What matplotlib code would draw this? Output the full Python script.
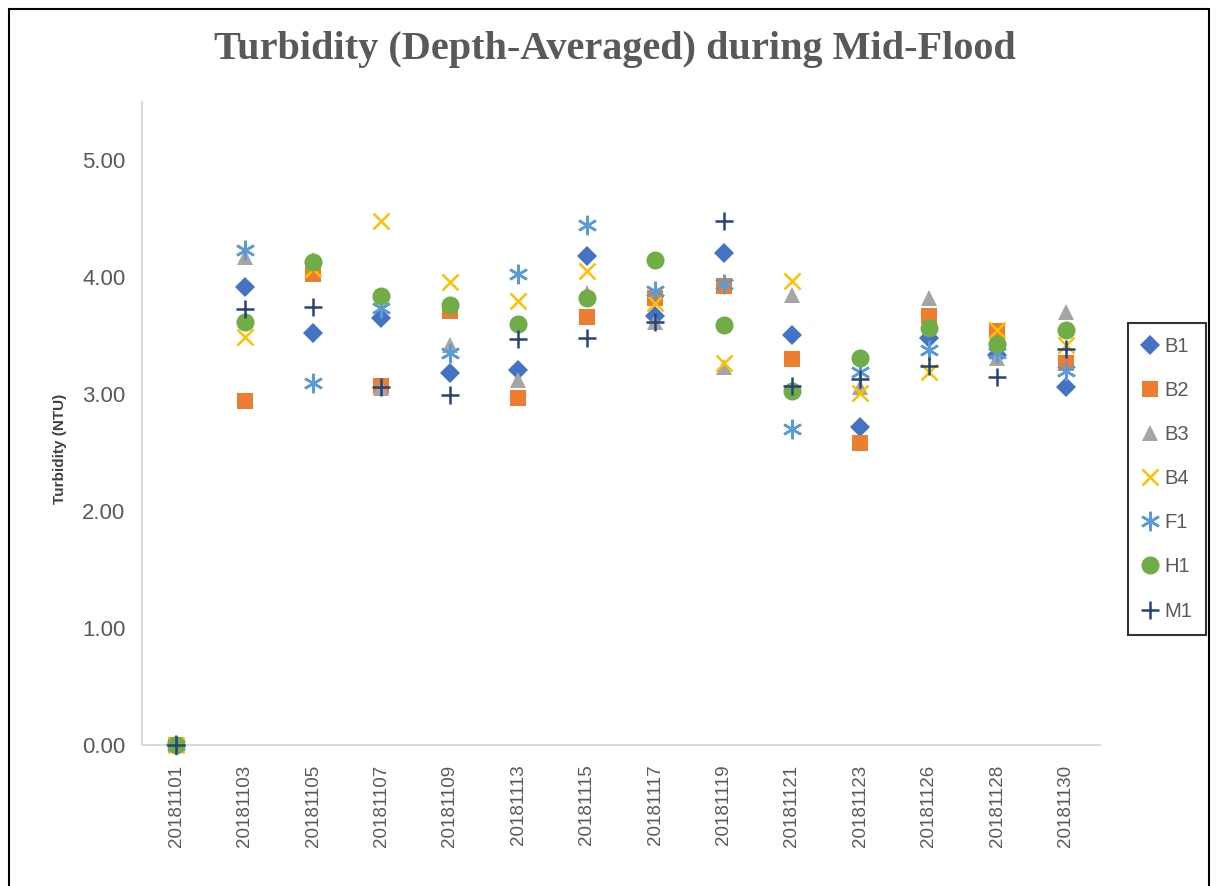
import numpy as np
import matplotlib.pyplot as plt
from matplotlib.patches import Rectangle

plt.rcParams["font.family"] = ["Liberation Sans", "DejaVu Sans"]

# ---------------------------------------------------------------------------
# Data
# ---------------------------------------------------------------------------
dates = ["20181101", "20181103", "20181105", "20181107", "20181109", "20181113",
         "20181115", "20181117", "20181119", "20181121", "20181123", "20181126",
         "20181128", "20181130"]

B1 = [0.00, 3.92, 3.52, 3.65, 3.18, 3.21, 4.18, 3.67, 4.21, 3.51, 2.72, 3.48, 3.34, 3.06]
B2 = [0.00, 2.94, 4.03, 3.07, 3.71, 2.97, 3.66, 3.82, 3.93, 3.30, 2.58, 3.67, 3.54, 3.27]
B3 = [0.00, 4.17, 4.15, 3.05, 3.42, 3.12, 3.87, 3.62, 3.23, 3.85, 3.06, 3.82, 3.31, 3.70]
B4 = [0.00, 3.49, 4.07, 4.48, 3.96, 3.80, 4.05, 3.78, 3.27, 3.97, 3.01, 3.19, 3.55, 3.42]
F1 = [0.00, 4.23, 3.10, 3.74, 3.35, 4.03, 4.45, 3.88, 3.94, 2.70, 3.19, 3.38, 3.35, 3.20]
H1 = [0.00, 3.62, 4.13, 3.84, 3.76, 3.60, 3.82, 4.15, 3.59, 3.03, 3.31, 3.57, 3.43, 3.55]
M1 = [0.00, 3.73, 3.75, 3.06, 2.99, 3.47, 3.48, 3.62, 4.48, 3.07, 3.13, 3.24, 3.15, 3.39]

GREY_TXT = "#595959"

# ---------------------------------------------------------------------------
# Figure
# ---------------------------------------------------------------------------
fig = plt.figure(figsize=(12.18, 8.86), dpi=100)
ax = fig.add_axes([0.1166, 0.159, 0.7864, 0.726])

x = np.arange(len(dates))
series = [
    ("B1", B1, "D", "#4472C4", 10, 0),
    ("B2", B2, "s", "#ED7D31", 11, 0),
    ("B3", B3, "^", "#A5A5A5", 12, 0),
    ("B4", B4, "x", "#FFC000", 12, 1.8),
    ("F1", F1, (6, 2, 0), "#5B9BD5", 14, 1.8),
    ("H1", H1, "o", "#70AD47", 13, 0),
    ("M1", M1, "+", "#264478", 13, 1.8),
]
for name, vals, mk, col, ms, mew in series:
    ax.plot(x, vals, linestyle="none", marker=mk, color=col, markersize=ms,
            markeredgewidth=mew, label=name, clip_on=False, zorder=3)

ax.set_xlim(-0.5, len(dates) - 0.5)
ax.set_ylim(0, 5.5)
ax.set_yticks(np.arange(0, 6, 1))
ax.set_yticklabels([f"{v:.2f}" for v in np.arange(0, 6, 1)], fontsize=16, color=GREY_TXT)
ax.set_xticks(x)
ax.set_xticklabels(dates, rotation=90, fontsize=13.5, color=GREY_TXT)
ax.tick_params(axis="y", length=0, pad=12)
ax.tick_params(axis="x", length=0, pad=14)

for s in ["top", "right"]:
    ax.spines[s].set_visible(False)
for s in ["left", "bottom"]:
    ax.spines[s].set_color("#D9D9D9")
    ax.spines[s].set_linewidth(1.5)

ax.set_ylabel("Turbidity (NTU)", fontsize=11, fontweight="bold", color="#404040")
ax.yaxis.set_label_coords(-0.078, 0.46)

fig.text(0.505, 0.944, "Turbidity (Depth-Averaged) during Mid-Flood",
         ha="center", va="center", fontsize=29, fontweight="bold", color=GREY_TXT,
         family="Liberation Serif")

leg = fig.legend(loc="upper left", bbox_to_anchor=(0.926, 0.636), fontsize=14.5,
                 frameon=True, fancybox=False, labelspacing=1.25,
                 handlelength=0.8, handletextpad=0.3, borderpad=0.7,
                 borderaxespad=0)
leg.get_frame().set_edgecolor("black")
leg.get_frame().set_linewidth(1.5)
for t in leg.get_texts():
    t.set_color(GREY_TXT)

# outer chart border
fig.patches.append(Rectangle((0.007, -0.01), 0.986, 1.0, transform=fig.transFigure,
                             fill=False, edgecolor="black", linewidth=1.5))

fig.savefig("out.png", dpi=100)
